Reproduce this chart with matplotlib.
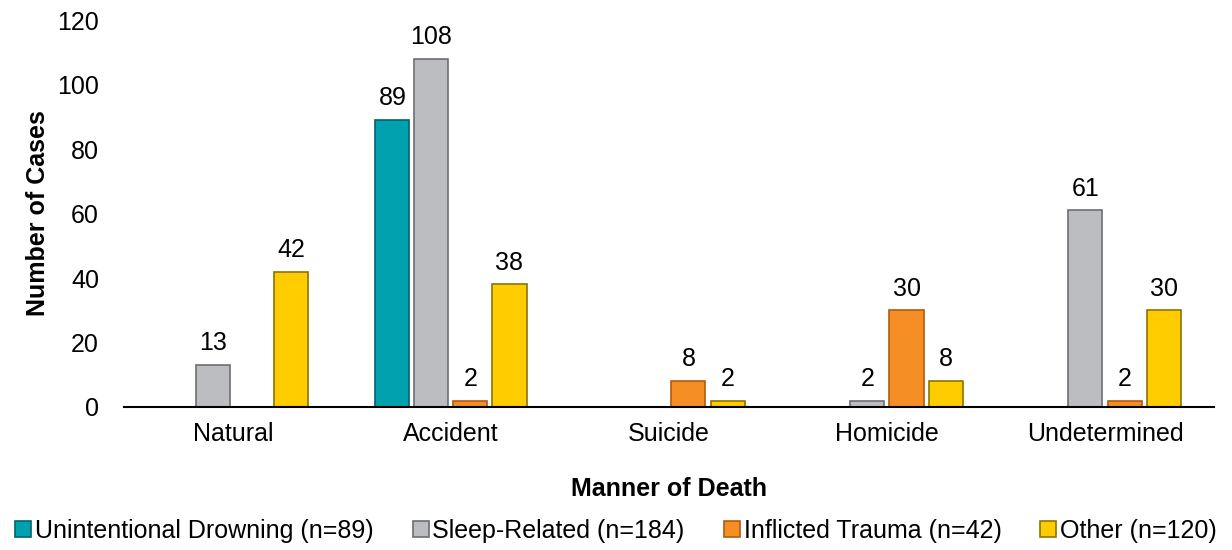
""" manner of death by category """

import matplotlib
matplotlib.use("Agg")
import matplotlib.pyplot
import numpy

CATEGORIES = ["Natural", "Accident", "Suicide", "Homicide", "Undetermined"]
SERIES = ["Unintentional Drowning (n=89)", "Sleep-Related (n=184)",
          "Inflicted Trauma (n=42)", "Other (n=120)"]
DROWNING = [0, 89, 0, 0, 0]
SLEEP = [13, 108, 0, 2, 61]
TRAUMA = [0, 2, 8, 30, 2]
OTHER = [42, 38, 2, 8, 30]
YTICKS = [0, 20, 40, 60, 80, 100, 120]

OUTPUT = "out.png"


def plot_manner():
    matplotlib.pyplot.rcParams["font.family"] = ["Liberation Sans", "DejaVu Sans"]

    values = [DROWNING, SLEEP, TRAUMA, OTHER]
    colors = ["#00A0AE", "#BCBDC0", "#F68E26", "#FFCC00"]
    edges = ["#00646E", "#6D6E71", "#B25B0E", "#8C7400"]

    indexes = numpy.arange(len(CATEGORIES))
    width = 0.156
    step = 0.179
    fontsize = 18

    fig = matplotlib.pyplot.figure(figsize=(12.32, 5.5), dpi=100)
    ax = fig.add_axes([0.1006, 0.26, 0.8848, 0.7036])

    handles = []
    for i, series in enumerate(values):
        offset = (i - 1.5) * step
        vals = numpy.array(series, dtype=float)
        mask = vals > 0
        bars = ax.bar(indexes[mask] + offset, vals[mask], width,
                      color=colors[i], edgecolor=edges[i], linewidth=1.2,
                      label=SERIES[i], zorder=3)
        handles.append(bars)
        for x, v in zip(indexes[mask] + offset, vals[mask]):
            ax.annotate("{:d}".format(int(v)), (x, v), xytext=(0, 7),
                        textcoords="offset points", ha="center", va="bottom",
                        fontsize=fontsize)

    ax.set_xlim([-0.5, len(CATEGORIES) - 0.5])
    ax.set_ylim([0, 120])
    ax.set_yticks(YTICKS)
    ax.set_xticks(indexes)
    ax.set_xticklabels(CATEGORIES)
    ax.tick_params(axis="both", length=0, labelsize=fontsize)
    ax.tick_params(axis="y", pad=18)
    ax.tick_params(axis="x", pad=11)

    for side in ["top", "right", "left"]:
        ax.spines[side].set_visible(False)
    ax.spines["bottom"].set_color("black")
    ax.spines["bottom"].set_linewidth(1.5)
    ax.spines["bottom"].set_zorder(4)

    ax.set_ylabel("Number of Cases", fontsize=fontsize, fontweight="bold")
    ax.get_yaxis().set_label_coords(-0.068, 0.5)
    ax.set_xlabel("Manner of Death", fontsize=fontsize, fontweight="bold", labelpad=22)

    fig.legend(handles, SERIES, loc="center", bbox_to_anchor=(0.5, 0.035),
               ncol=4, frameon=False, fontsize=fontsize, handlelength=0.65,
               handleheight=0.65, handletextpad=0.15, columnspacing=1.55,
               borderaxespad=0)

    matplotlib.pyplot.savefig(OUTPUT, dpi=100)
    matplotlib.pyplot.close()


if __name__ == "__main__":
    plot_manner()
